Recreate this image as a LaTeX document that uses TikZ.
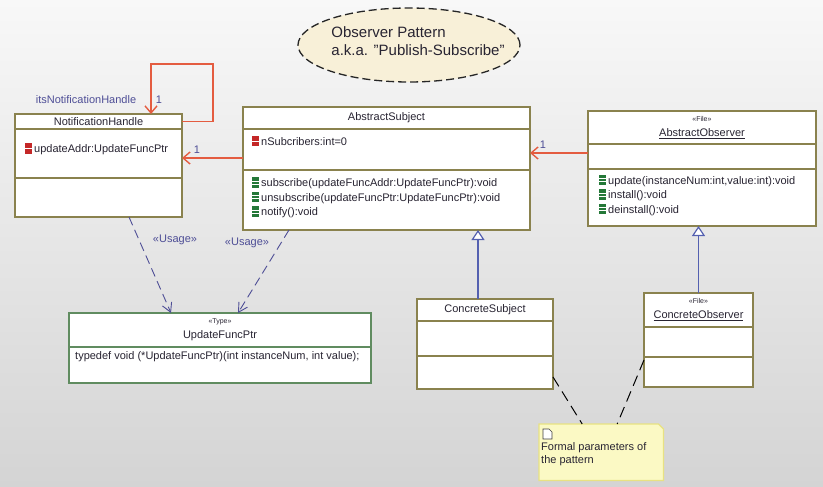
\documentclass[tikz,border=0pt]{standalone}
\usepackage{fontspec}
\setmainfont{Liberation Sans}
\usetikzlibrary{positioning,arrows.meta,shapes.geometric}

\definecolor{boxline}{RGB}{138,130,78}
\definecolor{typeline}{RGB}{96,140,96}
\definecolor{assocred}{RGB}{228,92,64}
\definecolor{rolecol}{RGB}{78,78,150}
\definecolor{genblue}{RGB}{84,96,176}
\definecolor{privred}{RGB}{196,40,40}
\definecolor{pubgreen}{RGB}{36,120,56}
\definecolor{notefill}{RGB}{251,249,196}
\definecolor{noteline}{RGB}{232,226,130}
\definecolor{ellfill}{RGB}{248,240,216}
\definecolor{bgtop}{RGB}{248,248,248}
\definecolor{bgbot}{RGB}{212,212,212}
\definecolor{txt}{RGB}{40,36,50}

% member icons
\newcommand{\attrmark}{\rlap{\textcolor{privred}{\rule[-1pt]{7pt}{10.5pt}}}\raisebox{3.6pt}{\textcolor{white}{\rule{7pt}{1.1pt}}}\hspace{2pt}}
\newcommand{\opmark}{\rlap{\textcolor{pubgreen}{\rule[-1pt]{7pt}{10.5pt}}}\rlap{\raisebox{2.2pt}{\textcolor{white}{\rule{7pt}{0.9pt}}}}\raisebox{5.2pt}{\textcolor{white}{\rule{7pt}{0.9pt}}}\hspace{2pt}}
\newcommand{\stereo}[1]{{\fontsize{7}{8}\selectfont #1}}

\tikzset{
  comp/.style={draw=boxline, fill=white, line width=1.3pt, inner sep=0pt, outer sep=0pt, minimum width=#1},
  typecomp/.style={comp=#1, draw=typeline},
  member/.style={inner sep=0pt, anchor=west, align=left, font=\fontsize{11}{14.5}\selectfont},
  role/.style={text=rolecol, inner sep=0pt},
  assoc/.style={draw=assocred, line width=1.4pt, -{Straight Barb[length=7pt,width=12pt]}},
  usage/.style={draw=rolecol, line width=0.9pt, dash pattern=on 9pt off 5pt, -{Straight Barb[length=9pt,width=10pt]}},
  inherit/.style={draw=genblue, line width=1.2pt, -{Triangle[open, length=10pt, width=13pt, fill=white]}},
  notelink/.style={draw=black, line width=1pt, dash pattern=on 11pt off 6pt},
}

\begin{document}
\begin{tikzpicture}[x=1pt, y=-1pt, font=\fontsize{11}{13}\selectfont, text=txt]
  \fill [top color=bgtop, bottom color=bgbot](0,0) rectangle (823,487);
  \useasboundingbox (0,0) rectangle (823,487);

  % title
  \node [ellipse, draw=black!85, fill=ellfill, line width=1.3pt, dash pattern=on 8pt off 4pt, minimum width=222pt, minimum height=74pt](title) at (409,45) {};
  \node [align=left, inner sep=0pt, font=\fontsize{15}{18}\selectfont](titleText) at (418,41) {Observer Pattern\\a.k.a. "Publish-Subscribe"};

  % NotificationHandle
  \node [comp=167pt, minimum height=15pt, anchor=north west](nhHead) at (15,114) {NotificationHandle};
  \node [comp=167pt, minimum height=49pt, below=0pt of nhHead](nhAttr) {};
  \node [comp=167pt, minimum height=39pt, below=0pt of nhAttr](nhOper) {};
  \node [member](nhA1) at (25,149) {\attrmark updateAddr:UpdateFuncPtr};

  % AbstractSubject
  \node [comp=287pt, minimum height=22pt, anchor=north west](asHead) at (243,107) {AbstractSubject};
  \node [comp=287pt, minimum height=41pt, below=0pt of asHead](asAttr) {};
  \node [comp=287pt, minimum height=60pt, below=0pt of asAttr](asOper) {};
  \node [member](asA1) at (252,141) {\attrmark nSubcribers:int=0};
  \node [member](asO1) at (252,197.5) {\opmark subscribe(updateFuncAddr:UpdateFuncPtr):void\\\opmark unsubscribe(updateFuncPtr:UpdateFuncPtr):void\\\opmark notify():void};

  % AbstractObserver
  \node [comp=228pt, minimum height=33pt, anchor=north west, align=center](aoHead) at (588,111) {\stereo{«File»}\\[2pt]\underline{AbstractObserver}};
  \node [comp=228pt, minimum height=25pt, below=0pt of aoHead](aoAttr) {};
  \node [comp=228pt, minimum height=57pt, below=0pt of aoAttr](aoOper) {};
  \node [member](aoO1) at (599,195) {\opmark update(instanceNum:int,value:int):void\\\opmark install():void\\\opmark deinstall():void};

  % ConcreteSubject
  \node [comp=136pt, minimum height=22pt, anchor=north west](csHead) at (417,299) {ConcreteSubject};
  \node [comp=136pt, minimum height=35pt, below=0pt of csHead](csAttr) {};
  \node [comp=136pt, minimum height=33pt, below=0pt of csAttr](csOper) {};

  % ConcreteObserver
  \node [comp=109pt, minimum height=34pt, anchor=north west, align=center](coHead) at (644,293) {\stereo{«File»}\\[2pt]\underline{ConcreteObserver}};
  \node [comp=109pt, minimum height=30pt, below=0pt of coHead](coAttr) {};
  \node [comp=109pt, minimum height=30pt, below=0pt of coAttr](coOper) {};

  % UpdateFuncPtr
  \node [typecomp=302pt, minimum height=34pt, anchor=north west, align=center](ufHead) at (69,313) {\stereo{«Type»}\\[2pt]UpdateFuncPtr};
  \node [typecomp=302pt, minimum height=36pt, below=0pt of ufHead](ufBody) {};
  \node [member](ufB1) at (75,357) {typedef void (*UpdateFuncPtr)(int instanceNum, int value);};

  % note
  \node [minimum width=124pt, minimum height=56pt, anchor=north west, inner sep=0pt](note) at (539,424) {};
  \fill [notefill, draw=noteline, line width=1.2pt](note.north west) -- ([xshift=-5pt]note.north east) -- ([yshift=-5pt]note.north east) -- (note.south east) -- (note.south west) -- cycle;
  \draw [black!75, fill=white, line width=0.7pt](543,429) -- (549,429) -- (552,432) -- (552,439) -- (543,439) -- cycle;
  \node [member, font=\fontsize{11}{13}\selectfont](noteText) at (541,454.5) {Formal parameters of\\the pattern};

  % associations
  \coordinate (loopTop) at (213,64);
  \draw [assoc](nhHead.east) -| (loopTop) -| ([xshift=52.5pt]nhHead.north);
  \draw [assoc]([yshift=-8.5pt]asAttr.west) -- ([yshift=-8.5pt]asAttr.west -| nhAttr.east);
  \draw [assoc]([yshift=3.5pt]aoAttr.west) -- ([yshift=3.5pt]aoAttr.west -| asAttr.east);
  \node [role](nhRole) at (86,100) {itsNotificationHandle};
  \node [role](nhMult) at (159,100) {1};
  \node [role](asMult) at (197,150) {1};
  \node [role](aoMult) at (543,145) {1};

  % generalizations
  \draw [inherit]([xshift=-7pt]csHead.north) -- ([xshift=-7pt]csHead.north |- asOper.south);
  \draw [inherit](coHead.north) -- (coHead.north |- aoOper.south);

  % usages
  \draw [usage]([xshift=30.5pt]nhOper.south) -- ([xshift=-49pt]ufHead.north);
  \draw [usage]([xshift=-97.5pt]asOper.south) -- ([xshift=18pt]ufHead.north);
  \node [role](usage1) at (175,240) {«Usage»};
  \node [role](usage2) at (247,243) {«Usage»};

  % note links
  \draw [notelink]([yshift=-4.5pt]csOper.east) -- ([xshift=-19pt]note.north);
  \draw [notelink]([yshift=-3pt]coOper.north west) -- ([xshift=16pt]note.north);
\end{tikzpicture}
\end{document}
